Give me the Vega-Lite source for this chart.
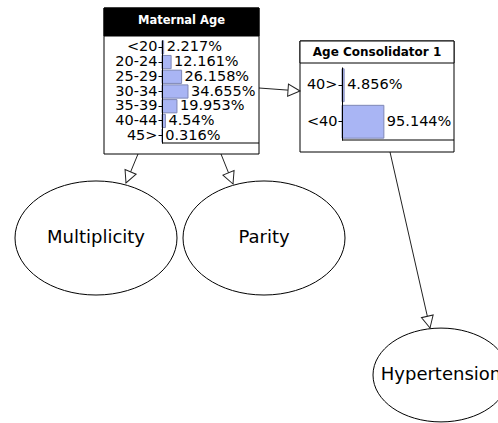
{
  "$schema": "https://vega.github.io/schema/vega-lite/v6.json",
  "width": 498,
  "height": 423,
  "autosize": "none",
  "padding": 0,
  "background": "white",
  "config": {"view": {"stroke": null}, "font": "DejaVu Sans"},
  "datasets": {
    "boxes": [
      {"node": "Maternal Age", "x": 104, "x2": 259, "y": 8, "y2": 154},
      {"node": "Age Consolidator 1", "x": 300, "x2": 454, "y": 41, "y2": 152}
    ],
    "headers": [
      {"node": "Maternal Age", "x": 104, "x2": 259, "y": 8, "y2": 36, "cx": 181.5, "cy": 21},
      {"node": "Age Consolidator 1", "x": 300, "x2": 454, "y": 41, "y2": 63, "cx": 377, "cy": 52}
    ],
    "baselines": [
      {"node": "Maternal Age", "x": 162, "x2": 259, "y": 143},
      {"node": "Age Consolidator 1", "x": 342, "x2": 454, "y": 140}
    ],
    "edges": [
      {"from": "Maternal Age", "to": "Multiplicity", "x": 138, "y": 154, "x2": 126, "y2": 183, "angle": 202.5},
      {"from": "Maternal Age", "to": "Parity", "x": 221, "y": 154, "x2": 233, "y2": 184, "angle": 158},
      {"from": "Maternal Age", "to": "Age Consolidator 1", "x": 259, "y": 88, "x2": 300, "y2": 91, "angle": 94},
      {"from": "Age Consolidator 1", "to": "Hypertension", "x": 390, "y": 152, "x2": 430, "y2": 328, "angle": 167}
    ],
    "nodes": [
      {"node": "Multiplicity", "x": 96, "y": 238},
      {"node": "Parity", "x": 264, "y": 238},
      {"node": "Hypertension", "x": 441, "y": 375}
    ],
    "maternal": [
      {"state": "<20", "share": 0.02217},
      {"state": "20-24", "share": 0.12161},
      {"state": "25-29", "share": 0.26158},
      {"state": "30-34", "share": 0.34655},
      {"state": "35-39", "share": 0.19953},
      {"state": "40-44", "share": 0.0454},
      {"state": "45>", "share": 0.00316}
    ],
    "consolidator": [
      {"state": "40>", "share": 0.04856},
      {"state": "<40", "share": 0.95144}
    ]
  },
  "layer": [
    {
      "encoding": {
        "x": {"field": "x", "type": "quantitative", "scale": {"domain": [0, 498], "range": [0, 498], "nice": false, "zero": false}, "axis": null},
        "y": {"field": "y", "type": "quantitative", "scale": {"domain": [0, 423], "range": [0, 423], "nice": false, "zero": false}, "axis": null}
      },
      "layer": [
        {
          "data": {"name": "edges"},
          "mark": {"type": "rule", "stroke": "#222222", "strokeWidth": 1},
          "encoding": {"x2": {"field": "x2"}, "y2": {"field": "y2"}}
        },
        {
          "data": {"name": "boxes"},
          "mark": {"type": "rect", "fill": "white", "stroke": "black", "strokeWidth": 1},
          "encoding": {"x2": {"field": "x2"}, "y2": {"field": "y2"}}
        },
        {
          "data": {"name": "headers"},
          "transform": [{"filter": "datum.node === 'Maternal Age'"}],
          "mark": {"type": "rect", "fill": "black", "stroke": "black", "strokeWidth": 1},
          "encoding": {"x2": {"field": "x2"}, "y2": {"field": "y2"}}
        },
        {
          "data": {"name": "headers"},
          "transform": [{"filter": "datum.node !== 'Maternal Age'"}],
          "mark": {"type": "rect", "fill": "white", "stroke": "black", "strokeWidth": 1},
          "encoding": {"x2": {"field": "x2"}, "y2": {"field": "y2"}}
        },
        {
          "data": {"name": "headers"},
          "transform": [{"filter": "datum.node === 'Maternal Age'"}],
          "mark": {"type": "text", "color": "white", "font": "DejaVu Sans", "fontWeight": "bold", "fontSize": 11.5, "align": "center", "baseline": "middle"},
          "encoding": {
            "x": {"field": "cx", "type": "quantitative", "scale": {"domain": [0, 498], "range": [0, 498], "nice": false, "zero": false}, "axis": null},
            "y": {"field": "cy", "type": "quantitative", "scale": {"domain": [0, 423], "range": [0, 423], "nice": false, "zero": false}, "axis": null},
            "text": {"field": "node"}
          }
        },
        {
          "data": {"name": "headers"},
          "transform": [{"filter": "datum.node !== 'Maternal Age'"}],
          "mark": {"type": "text", "color": "black", "font": "DejaVu Sans", "fontWeight": "bold", "fontSize": 12, "align": "center", "baseline": "middle"},
          "encoding": {
            "x": {"field": "cx", "type": "quantitative", "scale": {"domain": [0, 498], "range": [0, 498], "nice": false, "zero": false}, "axis": null},
            "y": {"field": "cy", "type": "quantitative", "scale": {"domain": [0, 423], "range": [0, 423], "nice": false, "zero": false}, "axis": null},
            "text": {"field": "node"}
          }
        },
        {
          "data": {"name": "baselines"},
          "mark": {"type": "rule", "stroke": "black", "strokeWidth": 1},
          "encoding": {"x2": {"field": "x2"}}
        },
        {
          "data": {"name": "nodes"},
          "transform": [{"filter": "datum.node !== 'Hypertension'"}],
          "mark": {"type": "point", "shape": "M-1,0A1,0.704,0,1,0,1,0A1,0.704,0,1,0,-1,0Z", "size": 26244, "filled": true, "fill": "white", "stroke": "black", "strokeWidth": 1, "opacity": 1}
        },
        {
          "data": {"name": "nodes"},
          "transform": [{"filter": "datum.node === 'Hypertension'"}],
          "mark": {"type": "point", "shape": "M-1,0A1,0.69,0,1,0,1,0A1,0.69,0,1,0,-1,0Z", "size": 18496, "filled": true, "fill": "white", "stroke": "black", "strokeWidth": 1, "opacity": 1}
        },
        {
          "data": {"name": "nodes"},
          "mark": {"type": "text", "color": "black", "font": "DejaVu Sans", "fontSize": 18, "align": "center", "baseline": "middle"},
          "encoding": {"text": {"field": "node"}}
        },
        {
          "data": {"name": "edges"},
          "mark": {"type": "point", "shape": "M0,0L0.5,1L-0.5,1Z", "size": 576, "filled": true, "fill": "white", "stroke": "#222222", "strokeWidth": 1, "opacity": 1},
          "encoding": {
            "x": {"field": "x2", "type": "quantitative", "scale": {"domain": [0, 498], "range": [0, 498], "nice": false, "zero": false}, "axis": null},
            "y": {"field": "y2", "type": "quantitative", "scale": {"domain": [0, 423], "range": [0, 423], "nice": false, "zero": false}, "axis": null},
            "angle": {"field": "angle", "type": "quantitative", "scale": null}
          }
        }
      ]
    },
    {
      "data": {"name": "maternal"},
      "encoding": {
        "y": {
          "field": "state", "type": "nominal", "sort": null,
          "scale": {"range": [40, 143], "paddingInner": 0.1, "paddingOuter": 0.05},
          "axis": {"orient": "left", "offset": -162, "title": null, "grid": false, "domainColor": "black", "domainWidth": 1, "tickColor": "black", "tickSize": 4, "tickWidth": 1, "labelPadding": 1, "labelFont": "DejaVu Sans", "labelFontSize": 14.5, "labelColor": "black", "zindex": 1}
        },
        "x": {"field": "share", "type": "quantitative", "scale": {"domain": [0, 1], "range": [162, 237], "nice": false, "zero": true}, "axis": null}
      },
      "layer": [
        {"mark": {"type": "bar", "fill": "#a9b5f4", "stroke": "#7f87b5", "strokeWidth": 1, "opacity": 1}},
        {"mark": {"type": "text", "align": "left", "baseline": "middle", "dx": 3, "font": "DejaVu Sans", "fontSize": 14.5, "color": "black"}, "encoding": {"text": {"field": "share", "format": ".3~%"}}}
      ]
    },
    {
      "data": {"name": "consolidator"},
      "encoding": {
        "y": {
          "field": "state", "type": "nominal", "sort": null,
          "scale": {"range": [67, 140], "paddingInner": 0.1, "paddingOuter": 0.05},
          "axis": {"orient": "left", "offset": -342, "title": null, "grid": false, "domainColor": "black", "domainWidth": 1, "tickColor": "black", "tickSize": 4, "tickWidth": 1, "labelPadding": 1, "labelFont": "DejaVu Sans", "labelFontSize": 14.5, "labelColor": "black", "zindex": 1}
        },
        "x": {"field": "share", "type": "quantitative", "scale": {"domain": [0, 1], "range": [342, 386], "nice": false, "zero": true}, "axis": null}
      },
      "layer": [
        {"mark": {"type": "bar", "fill": "#a9b5f4", "stroke": "#7f87b5", "strokeWidth": 1, "opacity": 1}},
        {"mark": {"type": "text", "align": "left", "baseline": "middle", "dx": 3, "font": "DejaVu Sans", "fontSize": 14.5, "color": "black"}, "encoding": {"text": {"field": "share", "format": ".3~%"}}}
      ]
    }
  ],
  "resolve": {"scale": {"x": "independent", "y": "independent"}}
}
